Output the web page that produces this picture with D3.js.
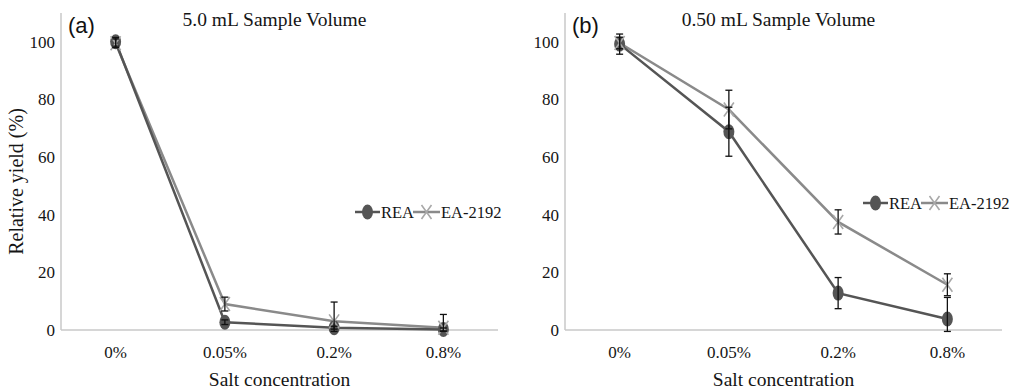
<!DOCTYPE html>
<html>
<head>
<meta charset="utf-8">
<script src="https://cdn.jsdelivr.net/npm/d3@7"></script>
<style>
  html, body { margin: 0; padding: 0; background: #fff; }
  svg { display: block; }
</style>
</head>
<body>
<svg id="chart" width="1013" height="391"></svg>
<script>
const categories = ["0%", "0.05%", "0.2%", "0.8%"];
const yTicks = [0, 20, 40, 60, 80, 100];
const seriesNames = ["REA", "EA-2192"];

const reaA = [100, 2.7, 0.8, 0.2];
const reaAErr = [1.5, 0.8, 0.5, 0.5];
const eaA = [99.5, 9, 3, 0.8];
const eaAErr = [1.5, 2.4, 6.7, 4.6];

const reaB = [99.2, 68.8, 12.8, 3.8];
const reaBErr = [3.5, 8.5, 5.4, 7.5];
const eaB = [99.6, 76.5, 37.5, 15.7];
const eaBErr = [2, 6.7, 4.2, 3.8];

const panels = [
  { tag: "(a)", title: "5.0 mL Sample Volume", left: 61, right: 498, rea: reaA, reaErr: reaAErr, ea: eaA, eaErr: eaAErr, legX: 355, legY: 212, yTitle: true },
  { tag: "(b)", title: "0.50 mL Sample Volume", left: 565, right: 1002, rea: reaB, reaErr: reaBErr, ea: eaB, eaErr: eaBErr, legX: 863, legY: 203, yTitle: false }
];

const svg = d3.select("#chart");
const plotTop = 13, plotBottom = 330;
const serif = "Liberation Serif";
const REA_COL = "#555555", EA_COL = "#8a8a8a", EA_MARK = "#a8a8a8";
const TXT = "#151515";

const y = d3.scaleLinear().domain([0, 110]).range([plotBottom, plotTop]);

function xMarker(g, cx, cy) {
  g.append("path")
    .attr("d", `M${cx-5},${cy-7}L${cx+5},${cy+7}M${cx+5},${cy-7}L${cx-5},${cy+7}`)
    .attr("stroke", EA_MARK).attr("stroke-width", 1.6).attr("fill", "none");
}
function circMarker(g, cx, cy) {
  g.append("ellipse").attr("cx", cx).attr("cy", cy).attr("rx", 5.5).attr("ry", 7.5)
    .attr("fill", REA_COL);
}
function txt(sel, size) {
  return sel.style("font-family", serif).style("font-size", size + "px").attr("fill", TXT);
}

panels.forEach(p => {
  const g = svg.append("g");
  const x = d3.scaleBand().domain(categories).range([p.left, p.right]);
  const cx = c => x(c) + x.bandwidth() / 2;

  // axes
  const yAxis = d3.axisLeft(y).tickValues(yTicks).tickSize(0).tickPadding(6);
  const ya = g.append("g").attr("transform", `translate(${p.left},0)`).call(yAxis);
  ya.select(".domain").remove();
  txt(ya.selectAll("text"), 17);
  g.append("line").attr("x1", p.left).attr("x2", p.left).attr("y1", plotTop).attr("y2", plotBottom)
    .attr("stroke", "#c8c8c8").attr("stroke-width", 1.5);

  const xAxis = d3.axisBottom(x).tickSize(0).tickPadding(16);
  const xa = g.append("g").attr("transform", `translate(0,${plotBottom})`).call(xAxis);
  xa.select(".domain").remove();
  txt(xa.selectAll("text"), 17);
  g.append("line").attr("x1", p.left).attr("x2", p.right).attr("y1", plotBottom).attr("y2", plotBottom)
    .attr("stroke", "#c8c8c8").attr("stroke-width", 1.5);

  // lines
  const line = d3.line().x((d, i) => cx(categories[i])).y(d => y(d));
  g.append("path").datum(p.ea).attr("d", line).attr("fill", "none")
    .attr("stroke", EA_COL).attr("stroke-width", 2.5);
  g.append("path").datum(p.rea).attr("d", line).attr("fill", "none")
    .attr("stroke", REA_COL).attr("stroke-width", 2.5);

  // markers
  p.rea.forEach((v, i) => circMarker(g, cx(categories[i]), y(v)));
  p.ea.forEach((v, i) => xMarker(g, cx(categories[i]), y(v)));

  // error bars
  const eb = (vals, errs) => vals.forEach((v, i) => {
    const X = cx(categories[i]);
    const y1 = y(v + errs[i]), y2 = y(Math.max(v - errs[i], -0.5));
    g.append("line").attr("x1", X).attr("x2", X).attr("y1", y1).attr("y2", y2)
      .attr("stroke", "#111").attr("stroke-width", 1.3);
    [y1, y2].forEach(yy => g.append("line").attr("x1", X - 3.5).attr("x2", X + 3.5)
      .attr("y1", yy).attr("y2", yy).attr("stroke", "#111").attr("stroke-width", 1.3));
  });
  eb(p.rea, p.reaErr);
  eb(p.ea, p.eaErr);

  // titles
  g.append("text").attr("x", p.left + 7).attr("y", 33).text(p.tag)
    .style("font-family", "Liberation Sans").style("font-size", "22px").attr("fill", "#111");
  txt(g.append("text").attr("x", (p.left + p.right) / 2 - 5).attr("y", 26).attr("text-anchor", "middle")
    .text(p.title), 19.5);
  txt(g.append("text").attr("x", (p.left + p.right) / 2).attr("y", 386).attr("text-anchor", "middle")
    .text("Salt concentration"), 19.5);
  if (p.yTitle) {
    txt(g.append("text").attr("transform", `translate(23,${(plotTop + plotBottom) / 2 + 10}) rotate(-90)`)
      .attr("text-anchor", "middle").text("Relative yield (%)"), 20);
  }

  // legend
  const L = g.append("g");
  const lx = p.legX, ly = p.legY;
  L.append("line").attr("x1", lx).attr("x2", lx + 25).attr("y1", ly).attr("y2", ly)
    .attr("stroke", REA_COL).attr("stroke-width", 2.5);
  circMarker(L, lx + 12.5, ly);
  txt(L.append("text").attr("x", lx + 26).attr("y", ly + 5.5).text(seriesNames[0]), 16.5);
  L.append("line").attr("x1", lx + 58).attr("x2", lx + 85).attr("y1", ly).attr("y2", ly)
    .attr("stroke", EA_COL).attr("stroke-width", 2.5);
  xMarker(L, lx + 71.5, ly);
  txt(L.append("text").attr("x", lx + 86).attr("y", ly + 5.5).text(seriesNames[1]), 16.5);
});
</script>
</body>
</html>
